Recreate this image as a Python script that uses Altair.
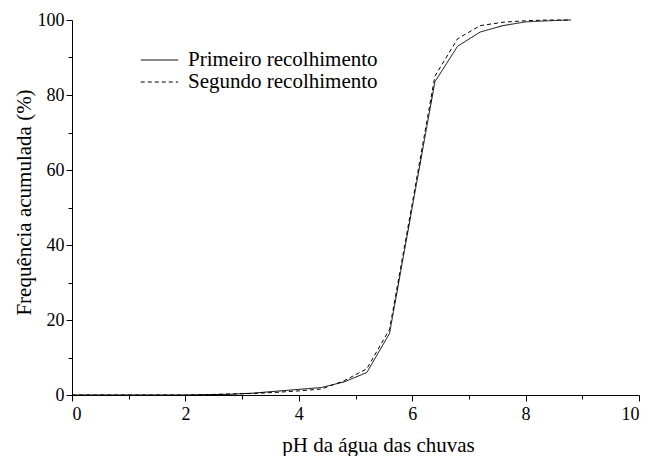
import altair as alt
import pandas as pd

ph = [0.0, 0.4, 0.8, 1.2, 1.6, 2.0, 2.4, 2.8, 3.2, 3.6, 4.0, 4.4, 4.8, 5.2, 5.6, 6.0, 6.4, 6.8, 7.2, 7.6, 8.0, 8.4, 8.8]
primeiro = [0, 0, 0, 0, 0, 0, 0.1, 0.2, 0.5, 1.0, 1.5, 2.0, 3.5, 6.0, 16.4, 50.0, 83.5, 93.0, 96.8, 98.5, 99.5, 99.8, 100]
segundo = [0, 0, 0, 0, 0, 0, 0.1, 0.3, 0.4, 0.7, 1.1, 1.6, 3.8, 7.0, 17.5, 51.0, 85.0, 95.0, 98.5, 99.4, 99.8, 100, 100]
series_names = ["Primeiro recolhimento", "Segundo recolhimento"]

rows = []
for name, vals in zip(series_names, [primeiro, segundo]):
    for x, y in zip(ph, vals):
        rows.append({"pH": x, "freq": y, "serie": name})
df = pd.DataFrame(rows)

FONT = "Liberation Serif, Times New Roman, serif"

chart = alt.Chart(df).mark_line(color="black", strokeWidth=1).encode(
    x=alt.X("pH:Q", scale=alt.Scale(domain=[0, 10], nice=False),
            axis=alt.Axis(title="pH da água das chuvas",
                          values=[0, 1, 2, 3, 4, 5, 6, 7, 8, 9, 10],
                          labelExpr="datum.value % 2 === 0 ? datum.label : ''",
                          tickSize={"condition": {"test": "datum.value % 2 === 0", "value": 6}, "value": 4},
                          grid=False, labelPadding=4,
                          titleX=306, titleY=56, titleBaseline="alphabetic")),
    y=alt.Y("freq:Q", scale=alt.Scale(domain=[0, 100], nice=False),
            axis=alt.Axis(title="Frequência acumulada (%)",
                          values=[0, 10, 20, 30, 40, 50, 60, 70, 80, 90, 100],
                          labelExpr="datum.value % 20 === 0 ? datum.label : ''",
                          tickSize={"condition": {"test": "datum.value % 20 === 0", "value": 6}, "value": 4},
                          grid=False, labelPadding=2,
                          titleX=-48, titleY=182, titleBaseline="middle")),
    strokeDash=alt.StrokeDash("serie:N",
                              scale=alt.Scale(domain=series_names, range=[[1, 0], [4, 3]]),
                              legend=alt.Legend(title=None, orient="none", legendX=68, legendY=29,
                                                symbolType="stroke", symbolSize=1400,
                                                symbolStrokeColor="black", symbolStrokeWidth=1,
                                                labelFont=FONT, labelFontSize=21, labelColor="black",
                                                labelLimit=0, labelOffset=9, rowPadding=0,
                                                clipHeight=22, symbolLimit=0)),
    detail="serie:N",
).properties(
    width=567, height=375,
    autosize=alt.AutoSizeParams(type="none"),
    padding={"left": 64, "top": 12, "right": 18, "bottom": 61},
).configure_axis(
    domainColor="black", tickColor="black", labelColor="black", titleColor="black",
    labelFont=FONT, titleFont=FONT, labelFontSize=18, titleFontSize=21,
    titleFontWeight="normal", domainWidth=1, tickWidth=1,
).configure_view(stroke=None)

chart.save("out.html", embed_options={"renderer": "svg", "actions": False})
